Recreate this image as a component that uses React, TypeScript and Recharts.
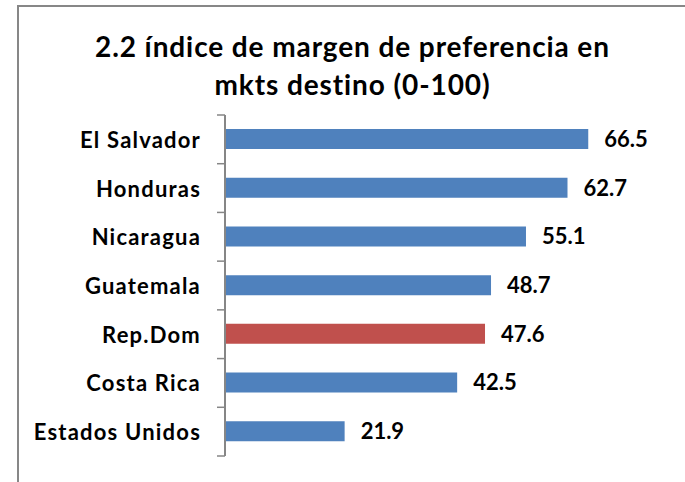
import { BarChart, Bar, XAxis, YAxis, Cell, LabelList } from 'recharts';

const countries = [
  'El Salvador',
  'Honduras',
  'Nicaragua',
  'Guatemala',
  'Rep.Dom',
  'Costa Rica',
  'Estados Unidos',
];
const values = [66.5, 62.7, 55.1, 48.7, 47.6, 42.5, 21.9];
const highlight = 'Rep.Dom';
const titleLines = ['2.2 índice de margen de preferencia en', 'mkts destino (0-100)'];

const data = countries.map((name, i) => ({ name, value: values[i] }));

const FONT = 'Lato, "Open Sans", sans-serif';
const PLOT_TOP = 115;
const PLOT_BOTTOM = 456;
const BAND = (PLOT_BOTTOM - PLOT_TOP) / countries.length;

// category label plus the tick marks sitting on the band boundaries
function CategoryTick({ x, y, payload, index }: any) {
  return (
    <g>
      <text
        x={x - 24}
        y={y}
        textAnchor="end"
        dominantBaseline="central"
        fontFamily={FONT}
        fontWeight={700}
        fontSize={22}
        letterSpacing={1.2}
        fill="#000"
      >
        {payload.value}
      </text>
      {index === 0 && (
        <line x1={x - 8} x2={x} y1={y - BAND / 2} y2={y - BAND / 2} stroke="#868686" strokeWidth={1.5} />
      )}
      <line x1={x - 8} x2={x} y1={y + BAND / 2} y2={y + BAND / 2} stroke="#868686" strokeWidth={1.5} />
    </g>
  );
}

export default function App() {
  return (
    <div
      style={{
        position: 'absolute',
        left: 0,
        top: 0,
        width: 685,
        height: 482,
        overflow: 'hidden',
        background: '#fff',
        fontFamily: FONT,
      }}
    >
      <div
        style={{
          position: 'absolute',
          left: 17,
          top: 5,
          width: 720,
          height: 520,
          border: '2px solid #878787',
        }}
      />
      {titleLines.map((t, i) => (
        <div
          key={t}
          style={{
            position: 'absolute',
            left: 0,
            width: 705,
            top: 29 + i * 38,
            textAlign: 'center',
            fontWeight: 700,
            fontSize: 28,
            letterSpacing: 0.9,
            lineHeight: '34px',
            color: '#000',
            whiteSpace: 'nowrap',
          }}
        >
          {t}
        </div>
      ))}
      <div style={{ position: 'absolute', left: 0, top: 0 }}>
        <BarChart
          width={685}
          height={482}
          data={data}
          layout="vertical"
          margin={{ top: PLOT_TOP, bottom: 482 - PLOT_BOTTOM, left: 0, right: 23 }}
        >
          <XAxis type="number" domain={[0, 80]} hide />
          <YAxis
            type="category"
            dataKey="name"
            width={225}
            tickLine={false}
            tickSize={0}
            tickMargin={0}
            axisLine={{ stroke: '#868686', strokeWidth: 2 }}
            tick={<CategoryTick />}
            interval={0}
          />
          <Bar dataKey="value" barSize={20} isAnimationActive={false}>
            {data.map(d => (
              <Cell key={d.name} fill={d.name === highlight ? '#C0504D' : '#4F81BD'} />
            ))}
            <LabelList
              dataKey="value"
              position="right"
              offset={16}
              fontFamily={FONT}
              fontWeight={700}
              fontSize={22}
              fill="#000"
              formatter={(v: any) => Number(v).toFixed(1)}
            />
          </Bar>
        </BarChart>
      </div>
    </div>
  );
}
